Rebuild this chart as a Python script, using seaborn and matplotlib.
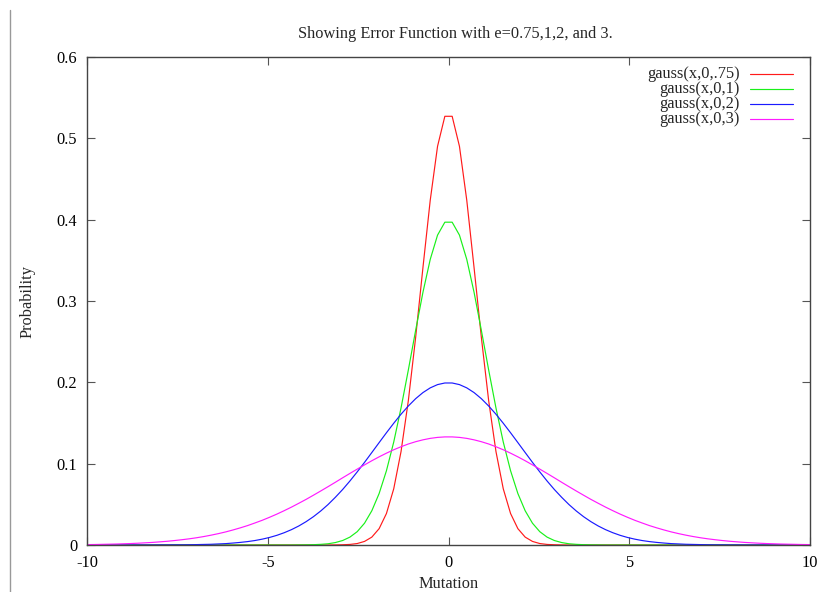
import matplotlib
matplotlib.use("Agg")
import matplotlib.pyplot as plt
import seaborn as sns
import pandas as pd
from matplotlib.lines import Line2D

# ---- data (positive half; curves are symmetric about x = 0) ----
x_half = [0.101, 0.303, 0.505, 0.707, 0.909, 1.111, 1.313, 1.515, 1.717, 1.919,
          2.121, 2.323, 2.525, 2.727, 2.929, 3.131, 3.333, 3.535, 3.737, 3.939,
          4.141, 4.343, 4.545, 4.747, 4.949, 5.152, 5.354, 5.556, 5.758, 5.960,
          6.162, 6.364, 6.566, 6.768, 6.970, 7.172, 7.374, 7.576, 7.778, 7.980,
          8.182, 8.384, 8.586, 8.788, 8.990, 9.192, 9.394, 9.596, 9.798, 10.0]

y_e075 = [0.5271, 0.4902, 0.4240, 0.3411, 0.2552, 0.1775, 0.1149, 0.0691, 0.0387, 0.0201,
          0.0097, 0.0044, 0.0018, 0.0007, 0.0003, 0.0001, 0.0, 0.0, 0.0, 0.0,
          0.0, 0.0, 0.0, 0.0, 0.0, 0.0, 0.0, 0.0, 0.0, 0.0,
          0.0, 0.0, 0.0, 0.0, 0.0, 0.0, 0.0, 0.0, 0.0, 0.0,
          0.0, 0.0, 0.0, 0.0, 0.0, 0.0, 0.0, 0.0, 0.0, 0.0]
y_e1 = [0.3969, 0.3810, 0.3512, 0.3107, 0.2639, 0.2152, 0.1685, 0.1266, 0.0913, 0.0633,
        0.0421, 0.0268, 0.0164, 0.0097, 0.0055, 0.0030, 0.0015, 0.0008, 0.0004, 0.0002,
        0.0001, 0.0, 0.0, 0.0, 0.0, 0.0, 0.0, 0.0, 0.0, 0.0,
        0.0, 0.0, 0.0, 0.0, 0.0, 0.0, 0.0, 0.0, 0.0, 0.0,
        0.0, 0.0, 0.0, 0.0, 0.0, 0.0, 0.0, 0.0, 0.0, 0.0]
y_e2 = [0.1992, 0.1972, 0.1932, 0.1874, 0.1799, 0.1709, 0.1608, 0.1497, 0.1380, 0.1259,
        0.1137, 0.1016, 0.0899, 0.0787, 0.0682, 0.0586, 0.0497, 0.0418, 0.0348, 0.0287,
        0.0234, 0.0189, 0.0151, 0.0119, 0.0093, 0.0072, 0.0055, 0.0042, 0.0032, 0.0024,
        0.0017, 0.0013, 0.0009, 0.0007, 0.0005, 0.0003, 0.0002, 0.0002, 0.0001, 0.0001,
        0.0, 0.0, 0.0, 0.0, 0.0, 0.0, 0.0, 0.0, 0.0, 0.0]
y_e3 = [0.1329, 0.1323, 0.1311, 0.1293, 0.1270, 0.1242, 0.1208, 0.1171, 0.1129, 0.1084,
        0.1036, 0.0985, 0.0933, 0.0880, 0.0826, 0.0771, 0.0717, 0.0664, 0.0612, 0.0561,
        0.0513, 0.0466, 0.0422, 0.0380, 0.0341, 0.0304, 0.0271, 0.0239, 0.0211, 0.0185,
        0.0161, 0.0140, 0.0121, 0.0104, 0.0089, 0.0076, 0.0065, 0.0055, 0.0046, 0.0039,
        0.0032, 0.0027, 0.0022, 0.0018, 0.0015, 0.0012, 0.0010, 0.0008, 0.0006, 0.0005]

series_labels = ["gauss(x,0,.75)", "gauss(x,0,1)", "gauss(x,0,2)", "gauss(x,0,3)"]
series_values = [y_e075, y_e1, y_e2, y_e3]
series_colors = ["#ff1a1a", "#19f019", "#1a1aff", "#ff1aff"]

x_ticks = [-10, -5, 0, 5, 10]
x_ticklabels = ["-10", "-5", "0", "5", "10"]
y_ticks = [0, 0.1, 0.2, 0.3, 0.4, 0.5, 0.6]
y_ticklabels = ["0", "0.1", "0.2", "0.3", "0.4", "0.5", "0.6"]

title = "Showing Error Function with e=0.75,1,2, and 3."
xlabel = "Mutation"
ylabel = "Probability"

# ---- build long-form table (mirror the symmetric halves) ----
x_full = [-v for v in reversed(x_half)] + list(x_half)
rows = []
for lab, vals in zip(series_labels, series_values):
    y_full = list(reversed(vals)) + list(vals)
    for xv, yv in zip(x_full, y_full):
        rows.append({"x": xv, "y": yv, "series": lab})
df = pd.DataFrame(rows)

# ---- style ----
sns.set_style("white")
plt.rcParams["font.family"] = ["Liberation Serif", "DejaVu Serif"]
FS = 11.8

W, H = 817, 592
fig = plt.figure(figsize=(W / 100, H / 100), dpi=100)
L, R, T, B = 87, 810, 57, 545
ax = fig.add_axes([L / W, 1 - B / H, (R - L) / W, (B - T) / H])

sns.lineplot(data=df, x="x", y="y", hue="series", hue_order=series_labels,
             palette=dict(zip(series_labels, series_colors)),
             estimator=None, linewidth=0.85, legend=False, ax=ax)

ax.set_xlim(-10, 10)
ax.set_ylim(0, 0.6)
ax.set_xticks(x_ticks)
ax.set_xticklabels(x_ticklabels)
ax.set_yticks(y_ticks)
ax.set_yticklabels(y_ticklabels)
ax.tick_params(direction="in", length=6, width=0.8, color="#555555",
               labelsize=FS, labelcolor="black", pad=7,
               top=True, right=True, bottom=True, left=True)
for sp in ax.spines.values():
    sp.set_visible(True)
    sp.set_color("#444444")
    sp.set_linewidth(1.0)

ax.set_xlabel(xlabel, fontsize=FS)
ax.set_ylabel(ylabel, fontsize=FS)
ax.xaxis.label.set_va("center")
ax.xaxis.set_label_coords(0.5, (B - 584.5) / (B - T))
ax.yaxis.label.set_rotation_mode("anchor")
ax.yaxis.label.set_va("center")
ax.yaxis.set_label_coords((27 - L) / (R - L), (B - 301) / (B - T))

fig.text(455 / W, 1 - 34 / H, title, ha="center", va="center", fontsize=FS)

# ---- legend (gnuplot style: right-aligned text, line key on the right) ----
leg_rows_px = [73.5, 88.8, 104.1, 119.4]
for lab, col, ypx in zip(series_labels, series_colors, leg_rows_px):
    yf = (B - ypx) / (B - T)
    ax.text((740 - L) / (R - L), yf, lab, transform=ax.transAxes,
            ha="right", va="center", fontsize=FS)
    ax.add_line(Line2D([(750 - L) / (R - L), (793 - L) / (R - L)], [yf, yf],
                       transform=ax.transAxes, color=col, linewidth=0.85))

# screenshot border line on the left
fig.add_artist(Line2D([10 / W, 10 / W], [0, 1 - 10 / H],
                      transform=fig.transFigure, color="#999999", linewidth=1.0))

fig.savefig("out.png", dpi=100)
